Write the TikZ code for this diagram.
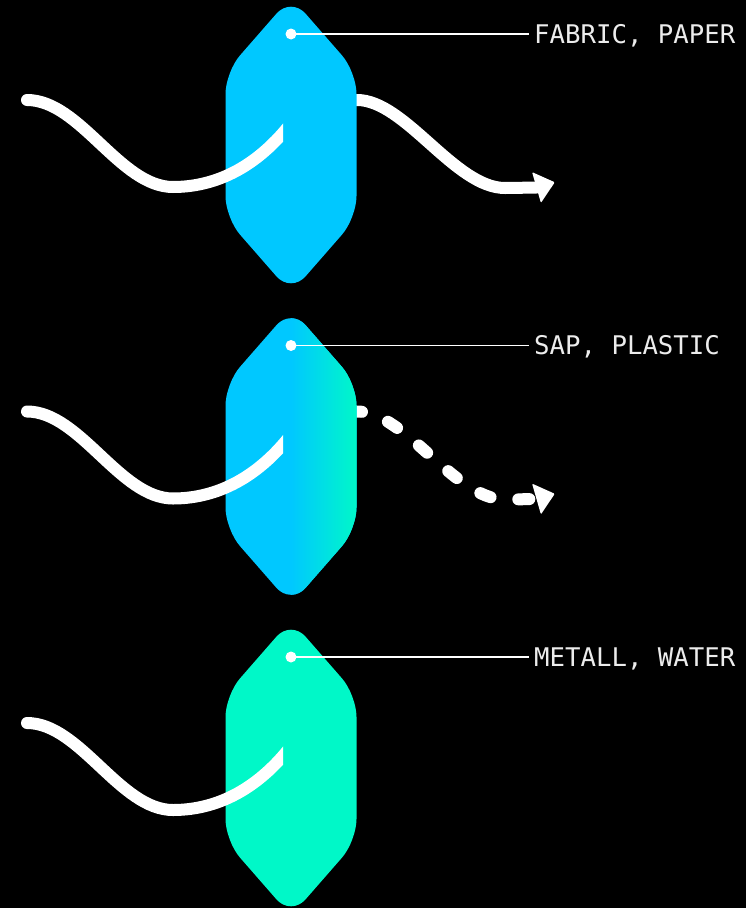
\documentclass[tikz,border=0pt]{standalone}
\usepackage{fontspec}
\newfontfamily\lblfont{DejaVu Sans Mono}
\usetikzlibrary{calc}
\definecolor{cblue}{HTML}{00C8FF}
\definecolor{cgreen}{HTML}{00F8C8}
\definecolor{ctext}{HTML}{ECECEC}
\tikzset{
  wave/.style={white, line width=12bp, line cap=round},
  dashwave/.style={wave, dash pattern=on 11bp off 28bp, dash phase=28bp},
  dotn/.style={circle, fill=white, inner sep=0pt, minimum size=11bp},
  lbl/.style={anchor=base west, inner xsep=5bp, inner ysep=0pt, text=ctext,
    font=\lblfont\fontsize{25.7bp}{30bp}\selectfont},
  leader/.style={white, line width=1.8bp},
  tiphead/.style={fill=white, rounded corners=1bp},
  crystal/.style={rounded corners=22bp},
}
\newcommand\crystalpath{(0,-148) -- (65.5,-73) -- (65.5,73) -- (0,148) -- (-65.5,73) -- (-65.5,-73) -- cycle}
\newcommand\leftwave{(27,100) .. controls (80,100) and (120,187) .. (173,187) .. controls (210,187) and (255,172) .. (295,118)}
\begin{document}
\begin{tikzpicture}[x=1bp,y=-1bp]
\fill[black] (0,0) rectangle (746,908);
\useasboundingbox (0,0) rectangle (746,908);

% ---------- row 1 ----------
\begin{scope}
  \draw[wave] (340,100) -- (357,100) .. controls (405,100) and (455,188) .. (505,188)
     .. controls (518,188) and (528,187.5) .. (536.5,187.5) coordinate (e1);
  \fill[tiphead, shift={(e1)}, rotate=16] (0,-16) -- (19,0) -- (0,16) -- cycle;
  \fill[cblue, crystal, shift={(291,145)}] \crystalpath;
  \begin{scope}
    \clip (0,0) rectangle (283,300);
    \draw[wave] \leftwave;
  \end{scope}
  \node[dotn] (d1) at (291,34) {};
  \node[lbl] (l1) at (529,43.4) {FABRIC, PAPER};
  \draw[leader] (d1.center) -- (d1 -| l1.west);
\end{scope}

% ---------- row 2 ----------
\begin{scope}[shift={(0,311.5)}]
  \draw[dashwave] (340,100) -- (357,100) .. controls (405,100) and (455,188) .. (505,188)
     .. controls (518,188) and (528,187.5) .. (536.5,187.5) coordinate (e2);
  \fill[tiphead, shift={(e2)}, rotate=16] (0,-16) -- (19,0) -- (0,16) -- cycle;
  \begin{scope}[shift={(291,145)}]
    \fill[cblue, crystal] \crystalpath;
    \begin{scope}
      \clip[crystal] \crystalpath;
      \shade[left color=cblue, right color=cgreen] (0,-150) rectangle (66,150);
    \end{scope}
  \end{scope}
  \begin{scope}
    \clip (0,0) rectangle (283,300);
    \draw[wave] \leftwave;
  \end{scope}
  \node[dotn] (d2) at (291,34) {};
  \node[lbl] (l2) at (529,43.4) {SAP, PLASTIC};
  \draw[leader] (d2.center) -- (d2 -| l2.west);
\end{scope}

% ---------- row 3 ----------
\begin{scope}[shift={(0,623)}]
  \fill[cgreen, crystal, shift={(291,145)}] \crystalpath;
  \begin{scope}
    \clip (0,0) rectangle (283,300);
    \draw[wave] \leftwave;
  \end{scope}
  \node[dotn] (d3) at (291,34) {};
  \node[lbl] (l3) at (529,43.4) {METALL, WATER};
  \draw[leader] (d3.center) -- (d3 -| l3.west);
\end{scope}
\end{tikzpicture}
\end{document}
